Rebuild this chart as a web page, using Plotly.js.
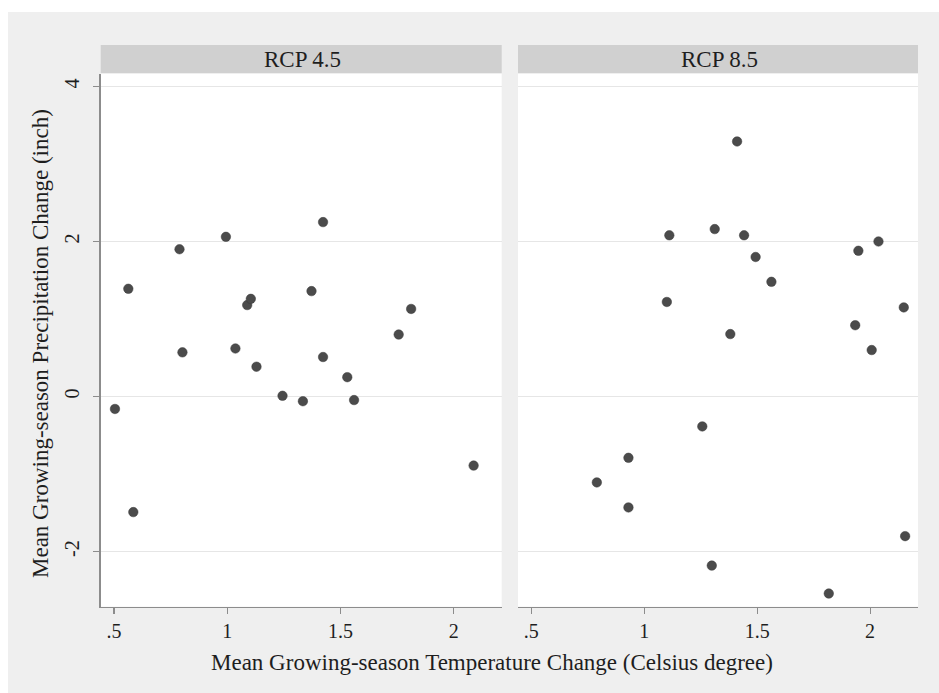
<!DOCTYPE html>
<html>
<head>
<meta charset="utf-8">
<script src="https://cdn.plot.ly/plotly-3.0.1.min.js"></script>
<style>html,body{margin:0;padding:0;background:#fff}#chart{width:939px;height:693px}</style>
</head>
<body>
<div id="chart"></div>
<script>
// Data
const panelTitles = ["RCP 4.5", "RCP 8.5"];
const rcp45Temp = [0.504, 0.563, 0.585, 0.789, 0.802, 0.994, 1.036, 1.088, 1.104, 1.129, 1.244, 1.334, 1.372, 1.423, 1.423, 1.530, 1.560, 1.757, 1.812, 2.088];
const rcp45Precip = [-0.16, 1.39, -1.49, 1.90, 0.57, 2.06, 0.62, 1.18, 1.26, 0.385, 0.01, -0.06, 1.36, 2.25, 0.51, 0.25, -0.045, 0.80, 1.13, -0.89];
const rcp85Temp = [0.790, 0.930, 0.930, 1.100, 1.111, 1.257, 1.299, 1.312, 1.381, 1.411, 1.442, 1.493, 1.563, 1.817, 1.934, 1.948, 2.007, 2.037, 2.149, 2.155];
const rcp85Precip = [-1.107, -0.79, -1.43, 1.22, 2.08, -0.385, -2.18, 2.16, 0.806, 3.29, 2.08, 1.80, 1.48, -2.54, 0.92, 1.88, 0.60, 2.00, 1.15, -1.80];
const xTickVals = [0.5, 1, 1.5, 2];
const xTickText = [".5", "1", "1.5", "2"];
const yTickVals = [-2, 0, 2, 4];
const yTickText = ["-2", "0", "2", "4"];
const xTitle = "Mean Growing-season Temperature Change (Celsius degree)";
const yTitle = "Mean Growing-season Precipitation Change (inch)";

const W = 939, H = 693;
const px = v => v / W;
const py = v => (H - v) / H;
const FONT = "Liberation Serif, Times New Roman, serif";
const marker = {color: "#4b4b4b", size: 9.5, line: {color: "#3a3a3a", width: 0.5}};

const traces = [
  {x: rcp45Temp, y: rcp45Precip, type: "scatter", mode: "markers", marker: marker, xaxis: "x", yaxis: "y", name: panelTitles[0]},
  {x: rcp85Temp, y: rcp85Precip, type: "scatter", mode: "markers", marker: marker, xaxis: "x2", yaxis: "y2", name: panelTitles[1]}
];

const axisLine = "#8c8c8c";
const xBase = {
  range: [0.441, 2.212], showgrid: false, zeroline: false,
  showline: true, linecolor: axisLine, linewidth: 1.5,
  ticks: "outside", ticklen: 6, tickwidth: 1.2, tickcolor: axisLine,
  tickvals: xTickVals, ticktext: xTickText,
  tickfont: {family: FONT, size: 20, color: "#1e1e1e"}, fixedrange: true
};
const yRange = [-2.71, 4.16];
const yDomain = [py(606.7), py(74)];

const layout = {
  width: W, height: H,
  margin: {l: 0, r: 0, t: 0, b: 0},
  paper_bgcolor: "#efefef", plot_bgcolor: "#ffffff",
  showlegend: false,
  xaxis: Object.assign({}, xBase, {domain: [px(100.7), px(501.7)], anchor: "y"}),
  xaxis2: Object.assign({}, xBase, {domain: [px(518), px(918)], anchor: "y2"}),
  yaxis: {
    domain: yDomain, range: yRange, anchor: "x",
    showgrid: true, gridcolor: "#e6e6e6", gridwidth: 1.5, zeroline: false,
    showline: true, linecolor: axisLine, linewidth: 1.5,
    ticks: "outside", ticklen: 6, tickwidth: 1.2, tickcolor: axisLine,
    tickvals: yTickVals, ticktext: yTickText, tickangle: -90, ticklabelstandoff: 6,
    tickfont: {family: FONT, size: 20, color: "#1e1e1e"}, fixedrange: true
  },
  yaxis2: {
    domain: yDomain, range: yRange, anchor: "x2",
    showgrid: true, gridcolor: "#e6e6e6", gridwidth: 1.5, zeroline: false,
    showline: false, ticks: "", showticklabels: false,
    tickvals: yTickVals, fixedrange: true
  },
  shapes: [
    {type: "rect", xref: "paper", yref: "paper", x0: 0, x1: 1, y0: py(12), y1: 1, fillcolor: "#ffffff", line: {width: 0}, layer: "below"},
    {type: "rect", xref: "paper", yref: "paper", x0: 0, x1: px(8), y0: 0, y1: 1, fillcolor: "#ffffff", line: {width: 0}, layer: "below"},
    {type: "rect", xref: "paper", yref: "paper", x0: px(100.7), x1: px(501.7), y0: py(73), y1: py(45), fillcolor: "#d0d0d0", line: {width: 0}, layer: "below"},
    {type: "rect", xref: "paper", yref: "paper", x0: px(518), x1: px(918), y0: py(73), y1: py(45), fillcolor: "#d0d0d0", line: {width: 0}, layer: "below"}
  ],
  annotations: [
    {text: panelTitles[0], xref: "paper", yref: "paper", x: px(302), y: py(59), xanchor: "center", yanchor: "middle", showarrow: false, font: {family: FONT, size: 23, color: "#1e1e1e"}},
    {text: panelTitles[1], xref: "paper", yref: "paper", x: px(719), y: py(59), xanchor: "center", yanchor: "middle", showarrow: false, font: {family: FONT, size: 23, color: "#1e1e1e"}},
    {text: xTitle, xref: "paper", yref: "paper", x: px(492), y: py(662), xanchor: "center", yanchor: "middle", showarrow: false, font: {family: FONT, size: 23, color: "#1e1e1e"}},
    {text: yTitle, xref: "paper", yref: "paper", x: px(40), y: py(344), xanchor: "center", yanchor: "middle", textangle: -90, showarrow: false, font: {family: FONT, size: 23, color: "#1e1e1e"}}
  ]
};

Plotly.newPlot("chart", traces, layout, {displayModeBar: false, staticPlot: true});
</script>
</body>
</html>
